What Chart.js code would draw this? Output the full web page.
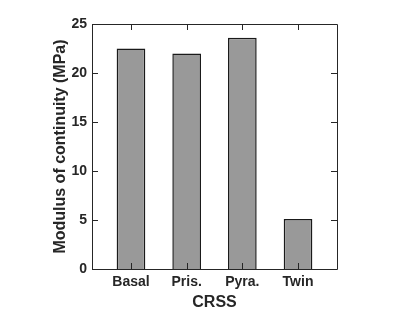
<!DOCTYPE html>
<html>
<head>
<meta charset="utf-8">
<script src="https://cdn.jsdelivr.net/npm/chart.js@4/dist/chart.umd.min.js"></script>
<style>
html,body{margin:0;padding:0;background:#fff;}
#wrap{width:415px;height:312px;}
</style>
</head>
<body>
<div id="wrap"><canvas id="c" width="415" height="312"></canvas></div>
<script>
const categories = ["Basal", "Pris.", "Pyra.", "Twin"];
const values = [22.5, 22.0, 23.6, 5.1];
const yTicks = [0, 5, 10, 15, 20, 25];
const xTitle = "CRSS";
const yTitle = "Modulus of continuity (MPa)";

const axisColor = "#262626";
const fontFam = "'Liberation Sans', Arial, Helvetica, sans-serif";

const framePlugin = {
  id: "frameTicks",
  afterDatasetsDraw(chart) {
    const {ctx, chartArea: a, scales} = chart;
    const tl = 6;
    ctx.save();
    ctx.strokeStyle = axisColor;
    ctx.lineWidth = 1;
    ctx.beginPath();
    ctx.rect(Math.round(a.left) + 0.5, Math.round(a.top) + 0.5, Math.round(a.right - a.left), Math.round(a.bottom - a.top));
    ctx.stroke();
    ctx.beginPath();
    scales.x.ticks.forEach(t => {
      const x = Math.round(scales.x.getPixelForValue(t.value)) + 0.5;
      ctx.moveTo(x, a.bottom); ctx.lineTo(x, a.bottom - tl);
      ctx.moveTo(x, a.top); ctx.lineTo(x, a.top + tl);
    });
    scales.y.ticks.forEach(t => {
      const y = Math.round(scales.y.getPixelForValue(t.value)) + 0.5;
      ctx.moveTo(a.left, y); ctx.lineTo(a.left + tl, y);
      ctx.moveTo(a.right, y); ctx.lineTo(a.right - tl, y);
    });
    ctx.stroke();
    ctx.restore();
  }
};

new Chart(document.getElementById("c"), {
  type: "bar",
  data: {
    datasets: [{
      data: values.map((v, i) => ({x: i + 1, y: v})),
      backgroundColor: "#999999",
      borderColor: "#1a1a1a",
      borderWidth: 1.5,
      categoryPercentage: 1,
      barPercentage: 0.515
    }]
  },
  options: {
    responsive: false,
    animation: false,
    devicePixelRatio: 1,
    layout: {padding: {left: 0, top: 24, right: 78, bottom: 0}},
    plugins: {legend: {display: false}, tooltip: {enabled: false}},
    scales: {
      x: {
        type: "linear",
        offset: false,
        min: 0.3,
        max: 4.7,
        grid: {display: false, drawTicks: false, offset: false},
        border: {display: false},
        afterBuildTicks(scale) {
          scale.ticks = categories.map((c, i) => ({value: i + 1}));
        },
        afterFit(scale) { scale.height = 43; },
        ticks: {
          padding: 5,
          color: axisColor,
          font: {family: fontFam, size: 14, weight: "bold"},
          callback: (v) => categories[Math.round(v) - 1]
        },
        title: {
          display: true,
          text: xTitle,
          color: axisColor,
          font: {family: fontFam, size: 16, weight: "bold"},
          padding: {top: 0, bottom: 0}
        }
      },
      y: {
        min: 0,
        max: 25,
        grid: {display: false, drawTicks: false},
        border: {display: false},
        afterBuildTicks(scale) {
          scale.ticks = yTicks.map(v => ({value: v}));
        },
        afterFit(scale) { scale.width = 92; },
        ticks: {
          padding: 5,
          color: axisColor,
          font: {family: fontFam, size: 14, weight: "bold"}
        },
        title: {
          display: true,
          text: yTitle,
          color: axisColor,
          font: {family: fontFam, size: 16, weight: "bold"},
          padding: {top: 51, bottom: 0}
        }
      }
    }
  },
  plugins: [framePlugin]
});
</script>
</body>
</html>
